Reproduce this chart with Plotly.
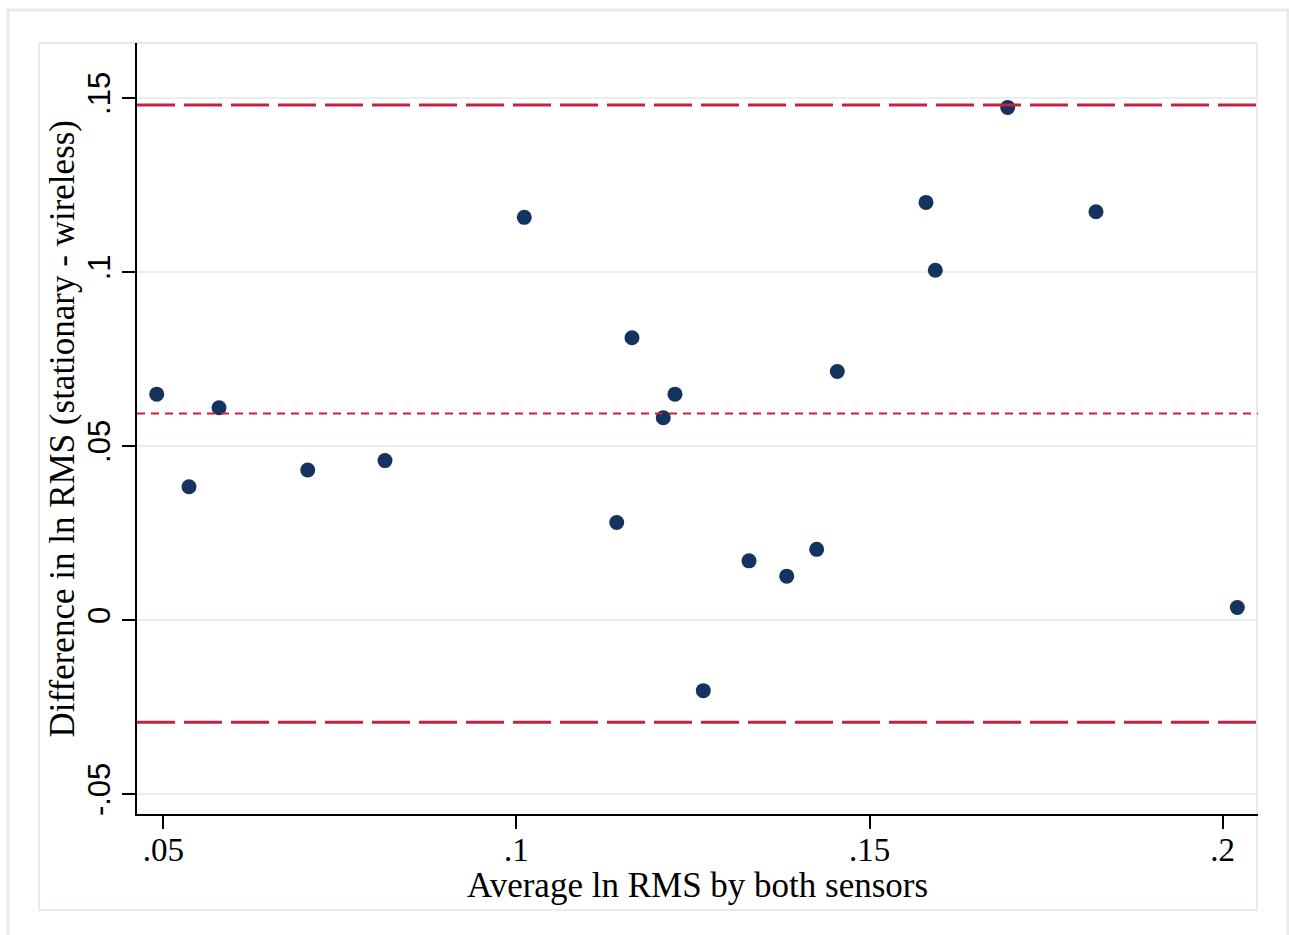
import plotly.graph_objects as go

# Bland-Altman data: mean of both sensors vs. difference (stationary - wireless)
avg_ln_rms = [0.04907, 0.05364, 0.05789, 0.07045, 0.08139, 0.10111, 0.11420, 0.11636,
              0.12079, 0.12245, 0.12646, 0.13293, 0.13827, 0.14251, 0.14543, 0.15799,
              0.15931, 0.16956, 0.18206, 0.20207]
diff_ln_rms = [0.0649, 0.0383, 0.0610, 0.0431, 0.0458, 0.1157, 0.0280, 0.0811,
               0.0581, 0.0649, -0.0203, 0.0170, 0.0126, 0.0203, 0.0714, 0.1200,
               0.1005, 0.1473, 0.1173, 0.0036]

mean_diff = [0.0593]
limits_of_agreement = [-0.0294, 0.1480]

x_tickvals = [0.05, 0.10, 0.15, 0.20]
x_ticktext = [".05", ".1", ".15", ".2"]
y_tickvals = [-0.05, 0.0, 0.05, 0.10, 0.15]
y_ticktext = ["-.05", "0", ".05", ".1", ".15"]

W, H = 1289, 935
L, R, T, B = 137, 31, 43, 121
pw, ph = W - L - R, H - T - B


def px_x(p):
    return (p - L) / pw


def px_y(p):
    return (H - B - p) / ph


serif = "Liberation Serif, Times New Roman, serif"
sans = "Liberation Sans, Arial, sans-serif"
red = "#c8203f"

fig = go.Figure()
fig.add_trace(go.Scatter(
    x=avg_ln_rms, y=diff_ln_rms, mode="markers",
    marker=dict(color="#14335f", size=15, line=dict(width=0)),
    showlegend=False, hoverinfo="x+y",
))

shapes = []
# limits of agreement (long dashes) and mean difference (short dashes)
for v in limits_of_agreement:
    shapes.append(dict(type="line", xref="paper", yref="y", x0=0, x1=1, y0=v, y1=v,
                       line=dict(color=red, width=3, dash="38px,9px"), layer="above"))
for v in mean_diff:
    shapes.append(dict(type="line", xref="paper", yref="y", x0=0, x1=1, y0=v, y1=v,
                       line=dict(color=red, width=2, dash="8px,6px"), layer="above"))

frame_col = "#e4ecee"
# inner graph region frame
shapes.append(dict(type="rect", xref="paper", yref="paper",
                   x0=px_x(39), x1=px_x(1257), y0=px_y(910), y1=px_y(43),
                   line=dict(color=frame_col, width=2), layer="below"))
# outer frame
shapes.append(dict(type="rect", xref="paper", yref="paper",
                   x0=px_x(8), x1=px_x(1288), y0=px_y(960), y1=px_y(10),
                   line=dict(color=frame_col, width=3), layer="below"))

fig.update_layout(
    width=W, height=H,
    margin=dict(l=L, r=R, t=T, b=B),
    paper_bgcolor="white", plot_bgcolor="white",
    shapes=shapes,
    annotations=[
        dict(text="Average ln RMS by both sensors", xref="paper", yref="paper",
             x=0.5, y=px_y(885), xanchor="center", yanchor="middle", showarrow=False,
             font=dict(family=serif, size=35, color="black")),
        dict(text="Difference in ln RMS (stationary - wireless)", xref="paper", yref="paper",
             x=px_x(62), y=0.5, xanchor="center", yanchor="middle", showarrow=False,
             textangle=-90, font=dict(family=serif, size=35, color="black")),
    ],
)

fig.update_xaxes(
    range=[0.046276, 0.2050], tickvals=x_tickvals, ticktext=x_ticktext,
    showgrid=False, zeroline=False,
    showline=True, linecolor="black", linewidth=2,
    ticks="outside", ticklen=13, tickwidth=2, tickcolor="black",
    ticklabelstandoff=-8,
    tickfont=dict(family=serif, size=33, color="black"),
)
fig.update_yaxes(
    range=[-0.05575, 0.16580], tickvals=y_tickvals, ticktext=y_ticktext,
    showgrid=True, gridcolor="#e6eff1", gridwidth=2, zeroline=False,
    showline=True, linecolor="black", linewidth=2,
    ticks="outside", ticklen=13, tickwidth=2, tickcolor="black",
    tickangle=-90, tickfont=dict(family=sans, size=31, color="black"),
)

fig.write_html("out.html")
